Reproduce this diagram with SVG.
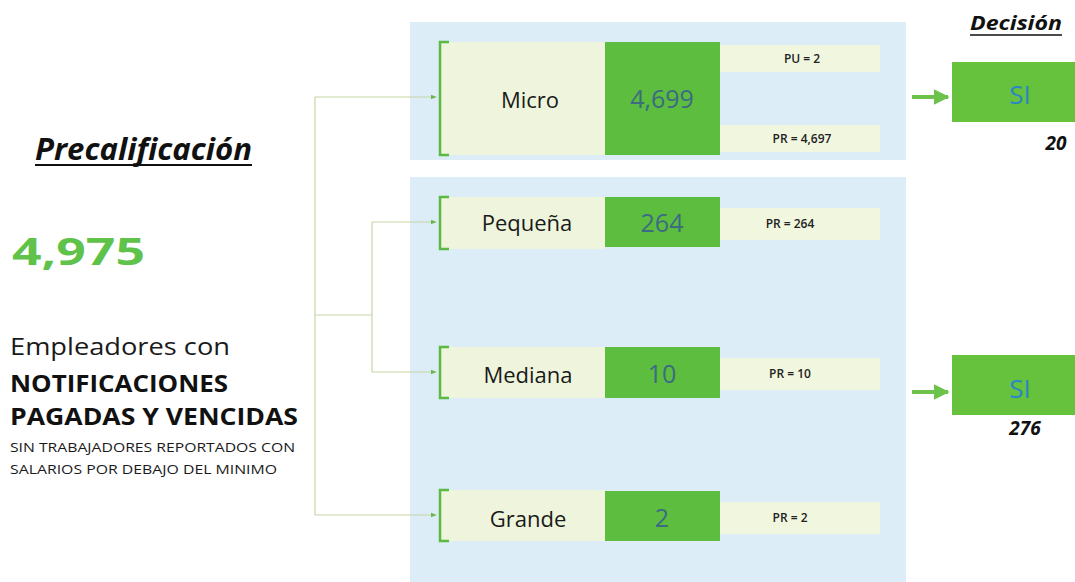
<svg xmlns="http://www.w3.org/2000/svg" width="1075" height="582" viewBox="0 0 1075 582">
<style>
text{font-family:"Open Sans","Noto Sans","Liberation Sans",sans-serif;}
.panel{fill:#dcedf8;}
.band{fill:#eef5dc;}
.band2{fill:#f1f7df;}
.gbox{fill:#5dbd3e;}
.bracket{fill:none;stroke:#5bb944;stroke-width:2.5;}
.conn{fill:none;stroke:#c5d6a4;stroke-width:1.2;}
.lbl{font-size:22px;fill:#1a1a1a;text-anchor:middle;}
.num{font-size:25px;fill:#3c6b82;text-anchor:middle;}
.pr{font-size:12px;font-weight:600;fill:#222;text-anchor:middle;}
.si{fill:#66c23c;}
.sit{font-size:26px;fill:#2a86c4;text-anchor:middle;}
.dec{font-size:20px;font-weight:bold;font-style:italic;fill:#111;}
.darr{stroke:#6cc24a;stroke-width:4;fill:none;}
</style>
<defs>
<marker id="sm" viewBox="0 0 10 10" refX="9" refY="5" markerWidth="6" markerHeight="6" orient="auto" markerUnits="userSpaceOnUse">
<path d="M0,1 L10,5 L0,9 z" fill="#6ab64c"/>
</marker>
<marker id="big" viewBox="0 0 10 10" refX="9" refY="5" markerWidth="4" markerHeight="4" orient="auto">
<path d="M0,0 L10,5 L0,10 z" fill="#6cc24a"/>
</marker>
</defs>
<rect width="1075" height="582" fill="#ffffff"/>

<g id="left-info">
<text x="35" y="160" font-size="30" font-weight="bold" font-style="italic" fill="#111" textLength="217" lengthAdjust="spacingAndGlyphs">Precalificación</text>
<line x1="35" y1="165" x2="252" y2="165" stroke="#111" stroke-width="2"/>
<text x="12" y="265" font-size="38" font-weight="bold" fill="#5fc24a" textLength="133" lengthAdjust="spacingAndGlyphs">4,975</text>
<text x="10" y="355" font-size="24" fill="#1a1a1a" textLength="220" lengthAdjust="spacingAndGlyphs">Empleadores con</text>
<text x="10" y="392" font-size="24" font-weight="bold" fill="#111" textLength="218" lengthAdjust="spacingAndGlyphs">NOTIFICACIONES</text>
<text x="10" y="425" font-size="24" font-weight="bold" fill="#111" textLength="288" lengthAdjust="spacingAndGlyphs">PAGADAS Y VENCIDAS</text>
<text x="10" y="452" font-size="12" fill="#1a1a1a" textLength="285" lengthAdjust="spacingAndGlyphs">SIN TRABAJADORES REPORTADOS CON</text>
<text x="10" y="474" font-size="12" fill="#1a1a1a" textLength="267" lengthAdjust="spacingAndGlyphs">SALARIOS POR DEBAJO DEL MINIMO</text>
</g>

<g id="panels">
<rect class="panel" x="410" y="22" width="496" height="138"/>
<rect class="panel" x="410" y="177" width="496" height="405"/>
</g>

<g id="decision-title">
<text class="dec" x="970" y="30" textLength="92" lengthAdjust="spacingAndGlyphs">Decisión</text>
<line x1="970" y1="35" x2="1062" y2="35" stroke="#111" stroke-width="1.5"/>
</g>

<g id="connectors">
<path class="conn" d="M315,97 L315,515"/>
<path class="conn" d="M315,97 L436,97" marker-end="url(#sm)"/>
<path class="conn" d="M315,515 L436,515" marker-end="url(#sm)"/>
<path class="conn" d="M315,315 L372,315"/>
<path class="conn" d="M372,222 L372,372"/>
<path class="conn" d="M372,222 L436,222" marker-end="url(#sm)"/>
<path class="conn" d="M372,372 L436,372" marker-end="url(#sm)"/>
<path class="darr" d="M912,97 L948,97" marker-end="url(#big)"/>
<path class="darr" d="M912,392 L948,392" marker-end="url(#big)"/>
</g>

<g id="node-micro">
<rect class="band" x="440" y="42" width="165" height="113"/>
<rect class="band2" x="720" y="45" width="160" height="27"/>
<rect class="band2" x="720" y="125" width="160" height="27"/>
<rect class="gbox" x="605" y="42" width="115" height="113"/>
<path class="bracket" d="M449,42 L440,42 L440,155 L449,155"/>
<text class="lbl" x="530" y="108">Micro</text>
<text class="num" x="662" y="108">4,699</text>
<text class="pr" x="802" y="63">PU = 2</text>
<text class="pr" x="802" y="143">PR = 4,697</text>
</g>

<g id="node-pequena">
<rect class="band" x="440" y="197" width="165" height="52"/>
<rect class="band2" x="720" y="208" width="160" height="32"/>
<rect class="gbox" x="605" y="197" width="115" height="50"/>
<path class="bracket" d="M449,197 L440,197 L440,249 L449,249"/>
<text class="lbl" x="527" y="231">Pequeña</text>
<text class="num" x="662" y="232">264</text>
<text class="pr" x="790" y="228">PR = 264</text>
</g>

<g id="node-mediana">
<rect class="band" x="440" y="347" width="165" height="51"/>
<rect class="band2" x="720" y="358" width="160" height="32"/>
<rect class="gbox" x="605" y="347" width="115" height="51"/>
<path class="bracket" d="M449,347 L440,347 L440,398 L449,398"/>
<text class="lbl" x="528" y="383">Mediana</text>
<text class="num" x="662" y="383">10</text>
<text class="pr" x="790" y="378">PR = 10</text>
</g>

<g id="node-grande">
<rect class="band" x="440" y="490" width="165" height="51"/>
<rect class="band2" x="720" y="502" width="160" height="32"/>
<rect class="gbox" x="605" y="491" width="115" height="50"/>
<path class="bracket" d="M449,490 L440,490 L440,541 L449,541"/>
<text class="lbl" x="528" y="527">Grande</text>
<text class="num" x="662" y="527">2</text>
<text class="pr" x="790" y="522">PR = 2</text>
</g>

<g id="node-si-1">
<rect class="si" x="952" y="62" width="123" height="60"/>
<text class="sit" x="1020" y="104">SI</text>
<text x="1056" y="150" font-size="19" font-weight="bold" font-style="italic" fill="#111" text-anchor="middle">20</text>
</g>

<g id="node-si-2">
<rect class="si" x="952" y="355" width="123" height="60"/>
<text class="sit" x="1020" y="398">SI</text>
<text x="1025" y="435" font-size="19" font-weight="bold" font-style="italic" fill="#111" text-anchor="middle">276</text>
</g>
</svg>
